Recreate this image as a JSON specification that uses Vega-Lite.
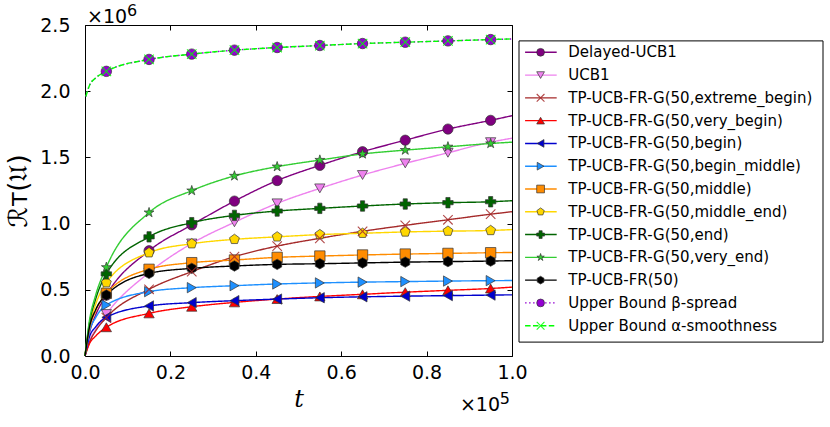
{
  "$schema": "https://vega.github.io/schema/vega-lite/v6.json",
  "autosize": {"type": "pad"},
  "padding": {"left": 5, "top": 2, "right": 7, "bottom": 5},
  "background": "white",
  "config": {"font": "DejaVu Sans", "view": {"stroke": null}, "scale": {"continuousPadding": 0}},
  "bounds": "flush",
  "spacing": 7,
  "resolve": {"scale": {"x": "independent", "y": "independent"}},
  "datasets": {
    "curves": [
      {"k": "DUCB", "t": 0, "v": 0}, {"k": "DUCB", "t": 0.01, "v": 0.17}, {"k": "DUCB", "t": 0.025, "v": 0.31}, {"k": "DUCB", "t": 0.05, "v": 0.46}, {"k": "DUCB", "t": 0.15, "v": 0.795}, {"k": "DUCB", "t": 0.25, "v": 0.99}, {"k": "DUCB", "t": 0.35, "v": 1.17}, {"k": "DUCB", "t": 0.45, "v": 1.325}, {"k": "DUCB", "t": 0.55, "v": 1.44}, {"k": "DUCB", "t": 0.65, "v": 1.543}, {"k": "DUCB", "t": 0.75, "v": 1.63}, {"k": "DUCB", "t": 0.85, "v": 1.714}, {"k": "DUCB", "t": 0.95, "v": 1.78}, {"k": "DUCB", "t": 1, "v": 1.815},
      {"k": "UCB1", "t": 0, "v": 0}, {"k": "UCB1", "t": 0.01, "v": 0.11}, {"k": "UCB1", "t": 0.025, "v": 0.2}, {"k": "UCB1", "t": 0.05, "v": 0.317}, {"k": "UCB1", "t": 0.15, "v": 0.63}, {"k": "UCB1", "t": 0.25, "v": 0.85}, {"k": "UCB1", "t": 0.35, "v": 1.01}, {"k": "UCB1", "t": 0.45, "v": 1.153}, {"k": "UCB1", "t": 0.55, "v": 1.266}, {"k": "UCB1", "t": 0.65, "v": 1.367}, {"k": "UCB1", "t": 0.75, "v": 1.455}, {"k": "UCB1", "t": 0.85, "v": 1.535}, {"k": "UCB1", "t": 0.95, "v": 1.615}, {"k": "UCB1", "t": 1, "v": 1.645},
      {"k": "xb", "t": 0, "v": 0}, {"k": "xb", "t": 0.01, "v": 0.1}, {"k": "xb", "t": 0.025, "v": 0.19}, {"k": "xb", "t": 0.05, "v": 0.29}, {"k": "xb", "t": 0.15, "v": 0.504}, {"k": "xb", "t": 0.25, "v": 0.637}, {"k": "xb", "t": 0.35, "v": 0.75}, {"k": "xb", "t": 0.45, "v": 0.83}, {"k": "xb", "t": 0.55, "v": 0.889}, {"k": "xb", "t": 0.65, "v": 0.942}, {"k": "xb", "t": 0.75, "v": 0.987}, {"k": "xb", "t": 0.85, "v": 1.029}, {"k": "xb", "t": 0.95, "v": 1.071}, {"k": "xb", "t": 1, "v": 1.09},
      {"k": "vb", "t": 0, "v": 0}, {"k": "vb", "t": 0.01, "v": 0.09}, {"k": "vb", "t": 0.025, "v": 0.15}, {"k": "vb", "t": 0.05, "v": 0.217}, {"k": "vb", "t": 0.15, "v": 0.322}, {"k": "vb", "t": 0.25, "v": 0.372}, {"k": "vb", "t": 0.35, "v": 0.405}, {"k": "vb", "t": 0.45, "v": 0.43}, {"k": "vb", "t": 0.55, "v": 0.45}, {"k": "vb", "t": 0.65, "v": 0.466}, {"k": "vb", "t": 0.75, "v": 0.482}, {"k": "vb", "t": 0.85, "v": 0.496}, {"k": "vb", "t": 0.95, "v": 0.51}, {"k": "vb", "t": 1, "v": 0.52},
      {"k": "b", "t": 0, "v": 0}, {"k": "b", "t": 0.01, "v": 0.14}, {"k": "b", "t": 0.025, "v": 0.22}, {"k": "b", "t": 0.05, "v": 0.292}, {"k": "b", "t": 0.15, "v": 0.378}, {"k": "b", "t": 0.25, "v": 0.403}, {"k": "b", "t": 0.35, "v": 0.418}, {"k": "b", "t": 0.45, "v": 0.43}, {"k": "b", "t": 0.55, "v": 0.44}, {"k": "b", "t": 0.65, "v": 0.447}, {"k": "b", "t": 0.75, "v": 0.452}, {"k": "b", "t": 0.85, "v": 0.456}, {"k": "b", "t": 0.95, "v": 0.46}, {"k": "b", "t": 1, "v": 0.462},
      {"k": "bm", "t": 0, "v": 0}, {"k": "bm", "t": 0.01, "v": 0.18}, {"k": "bm", "t": 0.025, "v": 0.29}, {"k": "bm", "t": 0.05, "v": 0.385}, {"k": "bm", "t": 0.15, "v": 0.486}, {"k": "bm", "t": 0.25, "v": 0.516}, {"k": "bm", "t": 0.35, "v": 0.531}, {"k": "bm", "t": 0.45, "v": 0.544}, {"k": "bm", "t": 0.55, "v": 0.552}, {"k": "bm", "t": 0.65, "v": 0.558}, {"k": "bm", "t": 0.75, "v": 0.562}, {"k": "bm", "t": 0.85, "v": 0.566}, {"k": "bm", "t": 0.95, "v": 0.569}, {"k": "bm", "t": 1, "v": 0.57},
      {"k": "m", "t": 0, "v": 0}, {"k": "m", "t": 0.01, "v": 0.2}, {"k": "m", "t": 0.025, "v": 0.34}, {"k": "m", "t": 0.05, "v": 0.473}, {"k": "m", "t": 0.15, "v": 0.655}, {"k": "m", "t": 0.25, "v": 0.705}, {"k": "m", "t": 0.35, "v": 0.725}, {"k": "m", "t": 0.45, "v": 0.745}, {"k": "m", "t": 0.55, "v": 0.755}, {"k": "m", "t": 0.65, "v": 0.763}, {"k": "m", "t": 0.75, "v": 0.77}, {"k": "m", "t": 0.85, "v": 0.775}, {"k": "m", "t": 0.95, "v": 0.78}, {"k": "m", "t": 1, "v": 0.782},
      {"k": "me", "t": 0, "v": 0}, {"k": "me", "t": 0.01, "v": 0.22}, {"k": "me", "t": 0.025, "v": 0.39}, {"k": "me", "t": 0.05, "v": 0.554}, {"k": "me", "t": 0.15, "v": 0.78}, {"k": "me", "t": 0.25, "v": 0.848}, {"k": "me", "t": 0.35, "v": 0.881}, {"k": "me", "t": 0.45, "v": 0.9}, {"k": "me", "t": 0.55, "v": 0.917}, {"k": "me", "t": 0.65, "v": 0.927}, {"k": "me", "t": 0.75, "v": 0.937}, {"k": "me", "t": 0.85, "v": 0.943}, {"k": "me", "t": 0.95, "v": 0.948}, {"k": "me", "t": 1, "v": 0.955},
      {"k": "e", "t": 0, "v": 0}, {"k": "e", "t": 0.01, "v": 0.24}, {"k": "e", "t": 0.025, "v": 0.43}, {"k": "e", "t": 0.05, "v": 0.62}, {"k": "e", "t": 0.15, "v": 0.9}, {"k": "e", "t": 0.25, "v": 1.007}, {"k": "e", "t": 0.35, "v": 1.062}, {"k": "e", "t": 0.45, "v": 1.095}, {"k": "e", "t": 0.55, "v": 1.115}, {"k": "e", "t": 0.65, "v": 1.133}, {"k": "e", "t": 0.75, "v": 1.148}, {"k": "e", "t": 0.85, "v": 1.158}, {"k": "e", "t": 0.95, "v": 1.165}, {"k": "e", "t": 1, "v": 1.173},
      {"k": "ve", "t": 0, "v": 0}, {"k": "ve", "t": 0.01, "v": 0.26}, {"k": "ve", "t": 0.025, "v": 0.46}, {"k": "ve", "t": 0.05, "v": 0.67}, {"k": "ve", "t": 0.15, "v": 1.083}, {"k": "ve", "t": 0.25, "v": 1.249}, {"k": "ve", "t": 0.35, "v": 1.36}, {"k": "ve", "t": 0.45, "v": 1.43}, {"k": "ve", "t": 0.55, "v": 1.48}, {"k": "ve", "t": 0.65, "v": 1.526}, {"k": "ve", "t": 0.75, "v": 1.555}, {"k": "ve", "t": 0.85, "v": 1.58}, {"k": "ve", "t": 0.95, "v": 1.605}, {"k": "ve", "t": 1, "v": 1.615},
      {"k": "FR", "t": 0, "v": 0}, {"k": "FR", "t": 0.01, "v": 0.21}, {"k": "FR", "t": 0.025, "v": 0.35}, {"k": "FR", "t": 0.05, "v": 0.46}, {"k": "FR", "t": 0.15, "v": 0.624}, {"k": "FR", "t": 0.25, "v": 0.662}, {"k": "FR", "t": 0.35, "v": 0.68}, {"k": "FR", "t": 0.45, "v": 0.692}, {"k": "FR", "t": 0.55, "v": 0.697}, {"k": "FR", "t": 0.65, "v": 0.703}, {"k": "FR", "t": 0.75, "v": 0.709}, {"k": "FR", "t": 0.85, "v": 0.713}, {"k": "FR", "t": 0.95, "v": 0.717}, {"k": "FR", "t": 1, "v": 0.72},
      {"k": "beta", "t": 0.002, "v": 1.96}, {"k": "beta", "t": 0.01, "v": 2.04}, {"k": "beta", "t": 0.025, "v": 2.1}, {"k": "beta", "t": 0.05, "v": 2.15}, {"k": "beta", "t": 0.15, "v": 2.24}, {"k": "beta", "t": 0.25, "v": 2.28}, {"k": "beta", "t": 0.35, "v": 2.31}, {"k": "beta", "t": 0.45, "v": 2.33}, {"k": "beta", "t": 0.55, "v": 2.345}, {"k": "beta", "t": 0.65, "v": 2.36}, {"k": "beta", "t": 0.75, "v": 2.37}, {"k": "beta", "t": 0.85, "v": 2.38}, {"k": "beta", "t": 0.95, "v": 2.39}, {"k": "beta", "t": 1, "v": 2.395},
      {"k": "alpha", "t": 0.002, "v": 1.96}, {"k": "alpha", "t": 0.01, "v": 2.04}, {"k": "alpha", "t": 0.025, "v": 2.1}, {"k": "alpha", "t": 0.05, "v": 2.15}, {"k": "alpha", "t": 0.15, "v": 2.24}, {"k": "alpha", "t": 0.25, "v": 2.28}, {"k": "alpha", "t": 0.35, "v": 2.31}, {"k": "alpha", "t": 0.45, "v": 2.33}, {"k": "alpha", "t": 0.55, "v": 2.345}, {"k": "alpha", "t": 0.65, "v": 2.36}, {"k": "alpha", "t": 0.75, "v": 2.37}, {"k": "alpha", "t": 0.85, "v": 2.38}, {"k": "alpha", "t": 0.95, "v": 2.39}, {"k": "alpha", "t": 1, "v": 2.395}
    ],
    "legend": [
      {"k": "DUCB", "i": 0, "label": "Delayed-UCB1"},
      {"k": "UCB1", "i": 1, "label": "UCB1"},
      {"k": "xb", "i": 2, "label": "TP-UCB-FR-G(50,extreme_begin)"},
      {"k": "vb", "i": 3, "label": "TP-UCB-FR-G(50,very_begin)"},
      {"k": "b", "i": 4, "label": "TP-UCB-FR-G(50,begin)"},
      {"k": "bm", "i": 5, "label": "TP-UCB-FR-G(50,begin_middle)"},
      {"k": "m", "i": 6, "label": "TP-UCB-FR-G(50,middle)"},
      {"k": "me", "i": 7, "label": "TP-UCB-FR-G(50,middle_end)"},
      {"k": "e", "i": 8, "label": "TP-UCB-FR-G(50,end)"},
      {"k": "ve", "i": 9, "label": "TP-UCB-FR-G(50,very_end)"},
      {"k": "FR", "i": 10, "label": "TP-UCB-FR(50)"},
      {"k": "beta", "i": 11, "label": "Upper Bound β-spread"},
      {"k": "alpha", "i": 12, "label": "Upper Bound α-smoothness"}
    ]
  },
  "hconcat": [
    {
      "width": 427,
      "height": 331,
      "view": {"stroke": "black", "strokeWidth": 1},
      "data": {"name": "curves"},
      "resolve": {"axis": {"x": "independent", "y": "independent"}},
      "layer": [
        {
          "mark": {"type": "line", "interpolate": "monotone", "strokeWidth": 1.4},
          "encoding": {
            "x": {"field": "t", "type": "quantitative", "scale": {"domain": [0, 1], "nice": false, "padding": 0},
              "axis": {"orient": "bottom", "values": [0, 0.2, 0.4, 0.6, 0.8, 1], "format": ".1f", "domain": false, "grid": false, "tickSize": -5, "tickColor": "black", "labelFontSize": 19, "labelColor": "black", "labelPadding": 12, "labelFlush": false, "title": "t", "titleFont": "DejaVu Serif", "titleFontStyle": "italic", "titleFontWeight": "normal", "titleFontSize": 24, "titleColor": "black", "titlePadding": 5}},
            "y": {"field": "v", "type": "quantitative", "scale": {"domain": [0, 2.5], "nice": false, "padding": 0},
              "axis": {"orient": "left", "values": [0, 0.5, 1, 1.5, 2, 2.5], "format": ".1f", "domain": false, "grid": false, "tickSize": -5, "tickColor": "black", "labelFontSize": 19, "labelColor": "black", "labelPadding": 20, "labelFlush": false, "title": "ℛᴛ(𝔘)", "titleFontWeight": "normal", "titleFontSize": 26, "titleColor": "black", "titlePadding": 8}},
            "color": {"field": "k", "type": "nominal", "legend": null,
              "scale": {"domain": ["DUCB", "UCB1", "xb", "vb", "b", "bm", "m", "me", "e", "ve", "FR", "beta", "alpha"],
                "range": ["#800080", "#ee82ee", "#a52a2a", "#ff0000", "#0000cd", "#1e90ff", "#ff8c00", "#ffd700", "#006400", "#32cd32", "#000000", "#9400d3", "#00ff00"]}},
            "strokeDash": {"field": "k", "type": "nominal", "legend": null,
              "scale": {"domain": ["DUCB", "UCB1", "xb", "vb", "b", "bm", "m", "me", "e", "ve", "FR", "beta", "alpha"],
                "range": [[1, 0], [1, 0], [1, 0], [1, 0], [1, 0], [1, 0], [1, 0], [1, 0], [1, 0], [1, 0], [1, 0], [1.5, 2.5], [5.5, 2.4]]}}
          }
        },
        {
          "transform": [{"filter": "datum.t > 0.04 && datum.t < 0.99 && datum.k != 'xb' && datum.k != 'alpha'"}],
          "mark": {"type": "point", "filled": true, "opacity": 1, "stroke": "#333333", "strokeWidth": 0.7},
          "encoding": {
            "x": {"field": "t", "type": "quantitative", "scale": {"domain": [0, 1], "nice": false, "padding": 0},
              "axis": {"orient": "top", "values": [0, 0.2, 0.4, 0.6, 0.8, 1], "labels": false, "domain": false, "grid": false, "tickSize": -5, "tickColor": "black", "title": null}},
            "y": {"field": "v", "type": "quantitative", "scale": {"domain": [0, 2.5], "nice": false, "padding": 0},
              "axis": {"orient": "right", "values": [0, 0.5, 1, 1.5, 2, 2.5], "labels": false, "domain": false, "grid": false, "tickSize": -5, "tickColor": "black", "title": null}},
            "fill": {"field": "k", "type": "nominal", "legend": null,
              "scale": {"domain": ["DUCB", "UCB1", "xb", "vb", "b", "bm", "m", "me", "e", "ve", "FR", "beta", "alpha"],
                "range": ["#800080", "#ee82ee", "#a52a2a", "#ff0000", "#0000cd", "#1e90ff", "#ff8c00", "#ffd700", "#006400", "#32cd32", "#000000", "#9400d3", "#00ff00"]}},
            "shape": {"field": "k", "type": "nominal", "legend": null,
              "scale": {"domain": ["DUCB", "UCB1", "xb", "vb", "b", "bm", "m", "me", "e", "ve", "FR", "beta", "alpha"],
                "range": ["circle", "triangle-down", "circle", "triangle-up", "triangle-left", "triangle-right", "square", "M0,-1L0.951,-0.309L0.588,0.809L-0.588,0.809L-0.951,-0.309Z", "cross", "M0,-1L0.223,-0.307L0.951,-0.309L0.361,0.117L0.588,0.809L0,0.38L-0.588,0.809L-0.361,0.117L-0.951,-0.309L-0.223,-0.307Z", "M0,-1L0.866,-0.5L0.866,0.5L0,1L-0.866,0.5L-0.866,-0.5Z", "circle", "circle"]}},
            "size": {"field": "k", "type": "nominal", "legend": null,
              "scale": {"domain": ["DUCB", "UCB1", "xb", "vb", "b", "bm", "m", "me", "e", "ve", "FR", "beta", "alpha"],
                "range": [105, 110, 100, 110, 110, 110, 80, 110, 120, 170, 95, 105, 100]}}
          }
        },
        {
          "transform": [{"filter": "datum.t > 0.04 && datum.t < 0.99 && (datum.k == 'xb' || datum.k == 'alpha')"}],
          "mark": {"type": "point", "filled": false, "opacity": 0.85, "strokeWidth": 1.1, "size": 90, "shape": "M-1,-1L1,1M-1,1L1,-1"},
          "encoding": {
            "x": {"field": "t", "type": "quantitative", "scale": {"domain": [0, 1], "nice": false, "padding": 0}, "axis": null},
            "y": {"field": "v", "type": "quantitative", "scale": {"domain": [0, 2.5], "nice": false, "padding": 0}, "axis": null},
            "stroke": {"field": "k", "type": "nominal", "legend": null,
              "scale": {"domain": ["xb", "alpha"], "range": ["#a52a2a", "#00ff00"]}}
          }
        },
        {
          "data": {"values": [{}]},
          "mark": {"type": "text", "align": "left", "baseline": "alphabetic", "fontSize": 19, "dx": 2, "dy": -2},
          "encoding": {
            "x": {"datum": 0, "type": "quantitative", "scale": {"domain": [0, 1], "nice": false, "padding": 0}, "axis": null},
            "y": {"datum": 2.5, "type": "quantitative", "scale": {"domain": [0, 2.5], "nice": false, "padding": 0}, "axis": null},
            "text": {"value": "×10"}
          }
        },
        {
          "data": {"values": [{}]},
          "mark": {"type": "text", "align": "left", "baseline": "alphabetic", "fontSize": 16, "dx": 42, "dy": -9},
          "encoding": {
            "x": {"datum": 0, "type": "quantitative", "scale": {"domain": [0, 1], "nice": false, "padding": 0}, "axis": null},
            "y": {"datum": 2.5, "type": "quantitative", "scale": {"domain": [0, 2.5], "nice": false, "padding": 0}, "axis": null},
            "text": {"value": "6"}
          }
        },
        {
          "data": {"values": [{}]},
          "mark": {"type": "text", "align": "right", "baseline": "alphabetic", "fontSize": 19, "dx": -12, "dy": 55},
          "encoding": {
            "x": {"datum": 1, "type": "quantitative", "scale": {"domain": [0, 1], "nice": false, "padding": 0}, "axis": null},
            "y": {"datum": 0, "type": "quantitative", "scale": {"domain": [0, 2.5], "nice": false, "padding": 0}, "axis": null},
            "text": {"value": "×10"}
          }
        },
        {
          "data": {"values": [{}]},
          "mark": {"type": "text", "align": "right", "baseline": "alphabetic", "fontSize": 16, "dx": -2, "dy": 48},
          "encoding": {
            "x": {"datum": 1, "type": "quantitative", "scale": {"domain": [0, 1], "nice": false, "padding": 0}, "axis": null},
            "y": {"datum": 0, "type": "quantitative", "scale": {"domain": [0, 2.5], "nice": false, "padding": 0}, "axis": null},
            "text": {"value": "5"}
          }
        }
      ]
    },
    {
      "width": 304,
      "height": 331,
      "data": {"name": "legend"},
      "layer": [
        {
          "data": {"values": [{}]},
          "mark": {"type": "rect", "fill": "white", "stroke": "black", "strokeWidth": 1},
          "encoding": {
            "x": {"datum": 0, "type": "quantitative", "scale": {"domain": [0, 1], "nice": false, "padding": 0}, "axis": null},
            "x2": {"datum": 1},
            "y": {"datum": -0.5, "type": "quantitative", "scale": {"domain": [-1.198, 13.33], "nice": false, "zero": false, "reverse": true, "padding": 0}, "axis": null},
            "y2": {"datum": 12.72}
          }
        },
        {
          "mark": {"type": "rule", "strokeWidth": 1.4},
          "encoding": {
            "x": {"datum": 0.02, "type": "quantitative", "scale": {"domain": [0, 1], "nice": false, "padding": 0}, "axis": null},
            "x2": {"datum": 0.124},
            "y": {"field": "i", "type": "quantitative", "scale": {"domain": [-1.198, 13.33], "nice": false, "zero": false, "reverse": true, "padding": 0}, "axis": null},
            "color": {"field": "k", "type": "nominal", "legend": null,
              "scale": {"domain": ["DUCB", "UCB1", "xb", "vb", "b", "bm", "m", "me", "e", "ve", "FR", "beta", "alpha"],
                "range": ["#800080", "#ee82ee", "#a52a2a", "#ff0000", "#0000cd", "#1e90ff", "#ff8c00", "#ffd700", "#006400", "#32cd32", "#000000", "#9400d3", "#00ff00"]}},
            "strokeDash": {"field": "k", "type": "nominal", "legend": null,
              "scale": {"domain": ["DUCB", "UCB1", "xb", "vb", "b", "bm", "m", "me", "e", "ve", "FR", "beta", "alpha"],
                "range": [[1, 0], [1, 0], [1, 0], [1, 0], [1, 0], [1, 0], [1, 0], [1, 0], [1, 0], [1, 0], [1, 0], [1.5, 2.5], [5.5, 2.4]]}}
          }
        },
        {
          "transform": [{"filter": "datum.k != 'xb' && datum.k != 'alpha'"}],
          "mark": {"type": "point", "filled": true, "opacity": 1, "stroke": "#333333", "strokeWidth": 0.7, "size": 60},
          "encoding": {
            "x": {"datum": 0.071, "type": "quantitative", "scale": {"domain": [0, 1], "nice": false, "padding": 0}, "axis": null},
            "y": {"field": "i", "type": "quantitative", "scale": {"domain": [-1.198, 13.33], "nice": false, "zero": false, "reverse": true, "padding": 0}, "axis": null},
            "fill": {"field": "k", "type": "nominal", "legend": null,
              "scale": {"domain": ["DUCB", "UCB1", "xb", "vb", "b", "bm", "m", "me", "e", "ve", "FR", "beta", "alpha"],
                "range": ["#800080", "#ee82ee", "#a52a2a", "#ff0000", "#0000cd", "#1e90ff", "#ff8c00", "#ffd700", "#006400", "#32cd32", "#000000", "#9400d3", "#00ff00"]}},
            "shape": {"field": "k", "type": "nominal", "legend": null,
              "scale": {"domain": ["DUCB", "UCB1", "xb", "vb", "b", "bm", "m", "me", "e", "ve", "FR", "beta", "alpha"],
                "range": ["circle", "triangle-down", "circle", "triangle-up", "triangle-left", "triangle-right", "square", "M0,-1L0.951,-0.309L0.588,0.809L-0.588,0.809L-0.951,-0.309Z", "cross", "M0,-1L0.223,-0.307L0.951,-0.309L0.361,0.117L0.588,0.809L0,0.38L-0.588,0.809L-0.361,0.117L-0.951,-0.309L-0.223,-0.307Z", "M0,-1L0.866,-0.5L0.866,0.5L0,1L-0.866,0.5L-0.866,-0.5Z", "circle", "circle"]}}
          }
        },
        {
          "transform": [{"filter": "datum.k == 'xb' || datum.k == 'alpha'"}],
          "mark": {"type": "point", "filled": false, "opacity": 0.85, "strokeWidth": 1.1, "size": 60, "shape": "M-1,-1L1,1M-1,1L1,-1"},
          "encoding": {
            "x": {"datum": 0.071, "type": "quantitative", "scale": {"domain": [0, 1], "nice": false, "padding": 0}, "axis": null},
            "y": {"field": "i", "type": "quantitative", "scale": {"domain": [-1.198, 13.33], "nice": false, "zero": false, "reverse": true, "padding": 0}, "axis": null},
            "stroke": {"field": "k", "type": "nominal", "legend": null,
              "scale": {"domain": ["xb", "alpha"], "range": ["#a52a2a", "#00ff00"]}}
          }
        },
        {
          "mark": {"type": "text", "align": "left", "baseline": "middle", "fontSize": 15, "color": "black"},
          "encoding": {
            "x": {"datum": 0.162, "type": "quantitative", "scale": {"domain": [0, 1], "nice": false, "padding": 0}, "axis": null},
            "y": {"field": "i", "type": "quantitative", "scale": {"domain": [-1.198, 13.33], "nice": false, "zero": false, "reverse": true, "padding": 0}, "axis": null},
            "text": {"field": "label"}
          }
        }
      ]
    }
  ]
}
